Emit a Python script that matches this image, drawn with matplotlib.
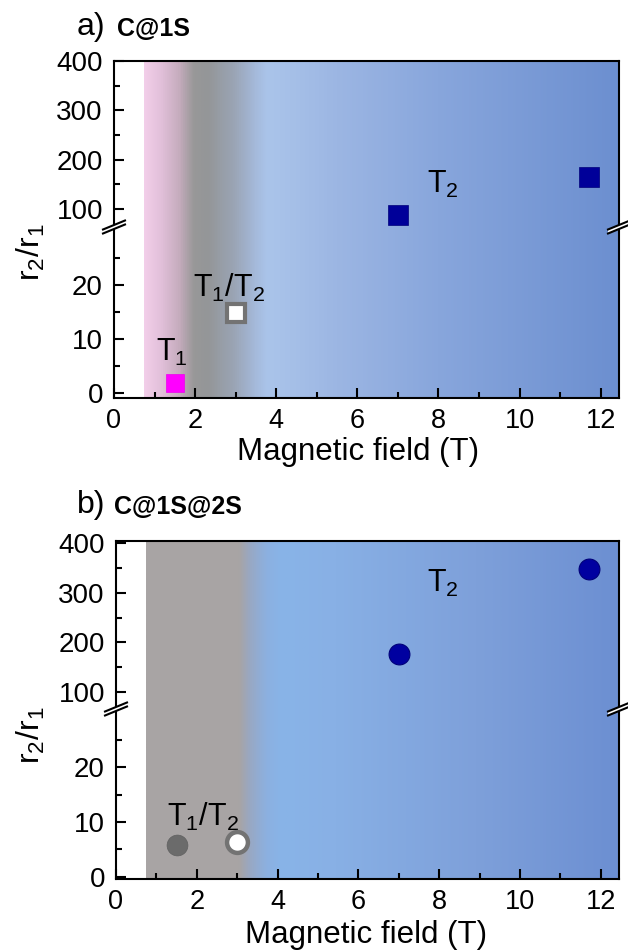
import numpy as np
import matplotlib
matplotlib.use('Agg')
import matplotlib.pyplot as plt
from matplotlib.colors import LinearSegmentedColormap
from matplotlib.lines import Line2D
from matplotlib.patches import Polygon

plt.rcParams['font.family'] = ['Liberation Sans', 'DejaVu Sans']
plt.rcParams['mathtext.default'] = 'regular'

# panel a (C@1S), squares
a_t1_x = [1.5]
a_t1_y = [1.9]
a_mix_x = [3.0]
a_mix_y = [14.8]
a_t2_x = [7.0, 11.7]
a_t2_y = [88, 165]

# panel b (C@1S@2S), circles
b_gray_x = [1.5]
b_gray_y = [5.8]
b_mix_x = [3.0]
b_mix_y = [6.4]
b_t2_x = [7.0, 11.7]
b_t2_y = [177, 348]

x_ticks = [0, 2, 4, 6, 8, 10, 12]
up_ticks = [100, 200, 300, 400]
low_ticks = [0, 10, 20]

W, H = 628, 951
fig = plt.figure(figsize=(W / 100, H / 100), dpi=100)


def fx(px):
    return px / W


def fy(py):
    return 1 - py / H


cmap_a = LinearSegmentedColormap.from_list('a', [
    (0.00, '#f2cee9'), (0.033, '#e2c0da'), (0.075, '#c2aaba'), (0.103, '#989898'),
    (0.132, '#949698'), (0.187, '#9aa4b4'), (0.229, '#a4b8d8'), (0.259, '#aac4ea'),
    (0.308, '#a6c0e8'), (0.406, '#9cb6e3'), (0.62, '#88a6dc'), (1.00, '#6c8fd0')])
cmap_b = LinearSegmentedColormap.from_list('b', [
    (0.00, '#a9a5a5'), (0.195, '#a8a4a4'), (0.218, '#98a8c4'), (0.254, '#8cb0e0'),
    (0.286, '#88b4e8'), (0.40, '#88b0e5'), (0.70, '#7ea0da'), (1.00, '#6c8fd2')])


def make_panel(top, brk, bot, left, up_lim, low_lim, cmap, xmax=12.45):
    right = 619
    ax_up = fig.add_axes([fx(left), fy(brk), fx(right) - fx(left), fy(top) - fy(brk)])
    ax_lo = fig.add_axes([fx(left), fy(bot), fx(right) - fx(left), fy(brk) - fy(bot)])
    grad = np.linspace(0, 1, 500)[None, :]
    ax_up.imshow(grad, cmap=cmap, aspect='auto', zorder=0,
                 extent=[0.75, xmax, up_lim[0], up_lim[1] - 4], interpolation='bilinear')
    ax_lo.imshow(grad, cmap=cmap, aspect='auto', zorder=0,
                 extent=[0.75, xmax, low_lim[0], low_lim[1]], interpolation='bilinear')
    for ax in (ax_up, ax_lo):
        ax.set_xlim(0, xmax)
        for s in ax.spines.values():
            s.set_linewidth(1.5)
        ax.tick_params(which='both', direction='in', width=1.5, right=False, top=False)
        ax.tick_params(which='major', length=7.5)
        ax.tick_params(which='minor', length=4.2)
    ax_up.set_ylim(*up_lim)
    ax_lo.set_ylim(*low_lim)
    ax_up.spines['bottom'].set_visible(False)
    ax_lo.spines['top'].set_visible(False)
    ax_up.tick_params(axis='x', which='both', bottom=False, labelbottom=False)
    ax_up.set_yticks(up_ticks)
    ax_up.set_yticks([150, 250, 350], minor=True)
    ax_lo.set_yticks(low_ticks)
    ax_lo.set_yticks([5, 15, 25], minor=True)
    ax_lo.set_xticks(x_ticks)
    ax_lo.set_xticks(range(1, 13, 2), minor=True)
    ax_up.tick_params(axis='y', labelsize=20, pad=8)
    ax_lo.tick_params(axis='y', labelsize=20, pad=8)
    ax_lo.tick_params(axis='x', labelsize=19.5, pad=7)
    # break marks on both spines
    for xp in (left, right):
        x0, x1 = fx(xp - 11), fx(xp + 11)
        y0 = fy(brk + 1)
        dy = 4.5 / H
        g = 4.0 / H
        poly = Polygon([(x0, y0 - dy), (x1, y0 + dy), (x1, y0 + dy + g), (x0, y0 - dy + g)],
                       closed=True, transform=fig.transFigure, facecolor='white',
                       edgecolor='none', zorder=10)
        fig.add_artist(poly)
        for off in (0, g):
            fig.add_artist(Line2D([x0, x1], [y0 - dy + off, y0 + dy + off],
                                  transform=fig.transFigure, color='black', lw=1.5, zorder=11))
    return ax_up, ax_lo


# ---- panel a
a_up, a_lo = make_panel(61, 228, 398, 114, (61.5, 400), (-0.9, 30.5), cmap_a)
a_lo.plot(a_t1_x, a_t1_y, 's', ms=13.5, color='#ff00ff', mec='#ee00ee', mew=0.5, zorder=5)
a_lo.plot(a_mix_x, a_mix_y, 's', ms=13.5, mfc='white', mec='#737373', mew=3, zorder=5)
a_up.plot(a_t2_x, a_t2_y, 's', ms=14, color='#000099', mec='#00007a', mew=0.5, zorder=5)
a_lo.text(1.43, 7.6, 'T$_1$', fontsize=22, ha='center', va='center')
a_lo.text(2.84, 19.4, 'T$_1$/T$_2$', fontsize=22, ha='center', va='center')
a_up.text(8.12, 149, 'T$_2$', fontsize=22, ha='center', va='center')
fig.text(fx(77), fy(35), 'a)', fontsize=23, ha='left', va='baseline')
fig.text(fx(117), fy(36), 'C@1S', fontsize=18, fontweight='bold', ha='left', va='baseline')
fig.text(fx(31), fy(252), 'r$_2$/r$_1$', fontsize=23, rotation=90, ha='center', va='center')
fig.text(fx(358), fy(460), 'Magnetic field (T)', fontsize=22.5, ha='center', va='baseline')

# ---- panel b
b_up, b_lo = make_panel(541, 710, 879, 116, (64, 404), (-0.4, 30.4), cmap_b)
b_lo.plot(b_gray_x, b_gray_y, 'o', ms=15, color='#6b6b6b', mec='#606060', mew=0.5, zorder=5)
b_lo.plot(b_mix_x, b_mix_y, 'o', ms=15, mfc='white', mec='#737373', mew=3.2, zorder=5)
b_up.plot(b_t2_x, b_t2_y, 'o', ms=15, color='#0000a0', mec='#00007a', mew=0.8, zorder=5)
b_lo.text(2.16, 10.9, 'T$_1$/T$_2$', fontsize=22, ha='center', va='center')
b_up.text(8.1, 319, 'T$_2$', fontsize=22, ha='center', va='center')
fig.text(fx(77), fy(513), 'b)', fontsize=23, ha='left', va='baseline')
fig.text(fx(114), fy(514), 'C@1S@2S', fontsize=18, fontweight='bold', ha='left', va='baseline')
fig.text(fx(31), fy(735), 'r$_2$/r$_1$', fontsize=23, rotation=90, ha='center', va='center')
fig.text(fx(366), fy(943), 'Magnetic field (T)', fontsize=22.5, ha='center', va='baseline')

fig.savefig('out.png', dpi=100)
